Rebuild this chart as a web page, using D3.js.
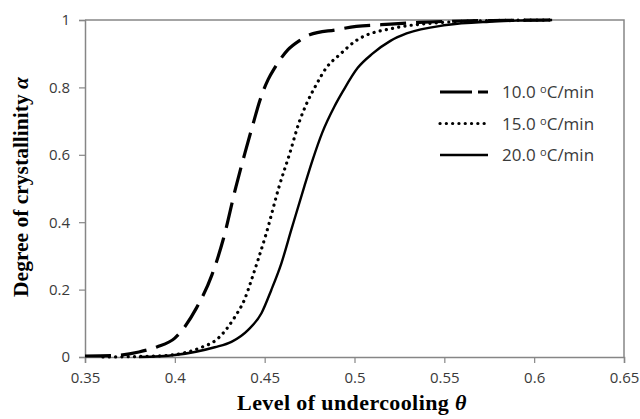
<!DOCTYPE html>
<html>
<head>
<meta charset="utf-8">
<script src="https://cdn.jsdelivr.net/npm/d3@7"></script>
<style>
  html, body { margin: 0; padding: 0; background: #fff; }
  svg { display: block; }
</style>
</head>
<body>
<svg id="chart" width="640" height="419"></svg>
<script>
// Crystallinity curves at three cooling rates
const theta10 = [0.35, 0.365, 0.38, 0.39, 0.40, 0.412, 0.4206, 0.427, 0.434, 0.439, 0.444, 0.4472, 0.4519, 0.4556, 0.463, 0.4694, 0.475, 0.4898, 0.501, 0.515, 0.536, 0.56, 0.585, 0.61];
const alpha10 = [0.003, 0.004, 0.015, 0.03, 0.056, 0.145, 0.243, 0.35, 0.505, 0.605, 0.70, 0.759, 0.823, 0.858, 0.912, 0.939, 0.956, 0.971, 0.981, 0.986, 0.993, 0.997, 0.999, 1.0];

const theta15 = [0.36, 0.39, 0.405, 0.414, 0.424, 0.4333, 0.4389, 0.4426, 0.4463, 0.4509, 0.458, 0.464, 0.4694, 0.4731, 0.4787, 0.4843, 0.4917, 0.5018, 0.523, 0.542, 0.56, 0.585, 0.61];
const alpha15 = [0.0, 0.003, 0.012, 0.027, 0.055, 0.118, 0.172, 0.228, 0.288, 0.367, 0.505, 0.605, 0.70, 0.749, 0.808, 0.858, 0.897, 0.942, 0.977, 0.99, 0.996, 0.999, 1.0];

const theta20 = [0.38, 0.40, 0.4222, 0.4315, 0.4407, 0.4482, 0.4537, 0.4593, 0.4648, 0.472, 0.4767, 0.482, 0.4889, 0.4935, 0.5018, 0.51, 0.52, 0.529, 0.551, 0.575, 0.59, 0.61];
const alpha20 = [0.0, 0.006, 0.029, 0.045, 0.080, 0.130, 0.199, 0.278, 0.377, 0.505, 0.585, 0.665, 0.744, 0.788, 0.858, 0.90, 0.938, 0.96, 0.985, 0.995, 0.998, 1.0];

const seriesLabels = ["10.0", "15.0", "20.0"];
const xTicks = [0.35, 0.4, 0.45, 0.5, 0.55, 0.6, 0.65];
const yTicks = [0, 0.2, 0.4, 0.6, 0.8, 1];

const svg = d3.select("#chart");
const margin = { left: 85, right: 16, top: 20, bottom: 62 };
const W = 640, H = 419;

const x = d3.scaleLinear().domain([0.35, 0.65]).range([margin.left, W - margin.right]);
const y = d3.scaleLinear().domain([0, 1]).range([H - margin.bottom, margin.top]);

const axisColor = "#868686";
const tickTextColor = "#3a3a3a";

// Plot frame (top and right edges)
svg.append("path")
  .attr("d", `M${x(0.35)},${y(1)}H${x(0.65)}V${y(0)}`)
  .attr("fill", "none").attr("stroke", axisColor).attr("stroke-width", 1.5);

// X axis
const gx = svg.append("g")
  .attr("transform", `translate(0,${y(0)})`)
  .call(d3.axisBottom(x).tickValues(xTicks).tickSize(6).tickPadding(9)
    .tickFormat(d => String(+d.toFixed(2))));
// Y axis
const gy = svg.append("g")
  .attr("transform", `translate(${x(0.35)},0)`)
  .call(d3.axisLeft(y).tickValues(yTicks).tickSize(6).tickPadding(9)
    .tickFormat(d => String(+d.toFixed(1))));

[gx, gy].forEach(g => {
  g.select(".domain").attr("stroke", axisColor).attr("stroke-width", 1.5);
  g.selectAll(".tick line").attr("stroke", axisColor).attr("stroke-width", 1.2);
  g.selectAll(".tick text")
    .attr("fill", tickTextColor)
    .style("font-family", "'Open Sans', sans-serif")
    .style("font-size", "15px");
});

// Curves
const line = d3.line()
  .x(d => x(d[0]))
  .y(d => y(d[1]))
  .curve(d3.curveMonotoneX);

const series = [
  { t: theta10, a: alpha10, dash: "26,10", width: 3.2, cap: "butt" },
  { t: theta15, a: alpha15, dash: "0.1,6.2", width: 3.2, cap: "round" },
  { t: theta20, a: alpha20, dash: null, width: 2.4, cap: "butt" }
];

const plot = svg.append("g");
series.forEach(s => {
  const pts = s.t.map((v, i) => [v, s.a[i]]);
  plot.append("path")
    .attr("d", line(pts))
    .attr("fill", "none")
    .attr("stroke", "#000")
    .attr("stroke-width", s.width)
    .attr("stroke-linecap", s.cap)
    .attr("stroke-linejoin", "round")
    .attr("stroke-dasharray", s.dash);
});

// Legend
const legendDash = ["32,6,10,6", "0.1,6.2", null];
const legend = svg.append("g");
seriesLabels.forEach((lab, i) => {
  const ly = 92 + i * 31.5;
  const s = series[i];
  legend.append("line")
    .attr("x1", 440).attr("x2", 488)
    .attr("y1", ly).attr("y2", ly)
    .attr("stroke", "#000")
    .attr("stroke-width", s.width)
    .attr("stroke-linecap", s.cap)
    .attr("stroke-dasharray", legendDash[i]);
  const t = legend.append("text")
    .attr("x", 502).attr("y", ly + 6)
    .attr("fill", tickTextColor)
    .style("font-family", "'Open Sans', sans-serif")
    .style("font-size", "17px");
  t.append("tspan").text(lab + " ");
  t.append("tspan").text("o").style("font-size", "11px").attr("dy", -5);
  t.append("tspan").text("C/min").attr("dy", 5);
});

// Axis titles
const xt = svg.append("text")
  .attr("x", 352).attr("y", 410)
  .attr("text-anchor", "middle")
  .style("font-family", "'Liberation Serif', 'Times New Roman', serif")
  .style("font-weight", "bold")
  .style("font-size", "22px")
  .style("letter-spacing", "0.4px")
  .attr("fill", "#000");
xt.append("tspan").text("Level of undercooling ");
xt.append("tspan").text("θ").style("font-style", "italic");

const yt = svg.append("text")
  .attr("transform", "translate(28,187) rotate(-90)")
  .attr("text-anchor", "middle")
  .style("font-family", "'Liberation Serif', 'Times New Roman', serif")
  .style("font-weight", "bold")
  .style("font-size", "21.5px")
  .attr("fill", "#000");
yt.append("tspan").text("Degree of crystallinity ");
yt.append("tspan").text("α").style("font-style", "italic");
</script>
</body>
</html>
